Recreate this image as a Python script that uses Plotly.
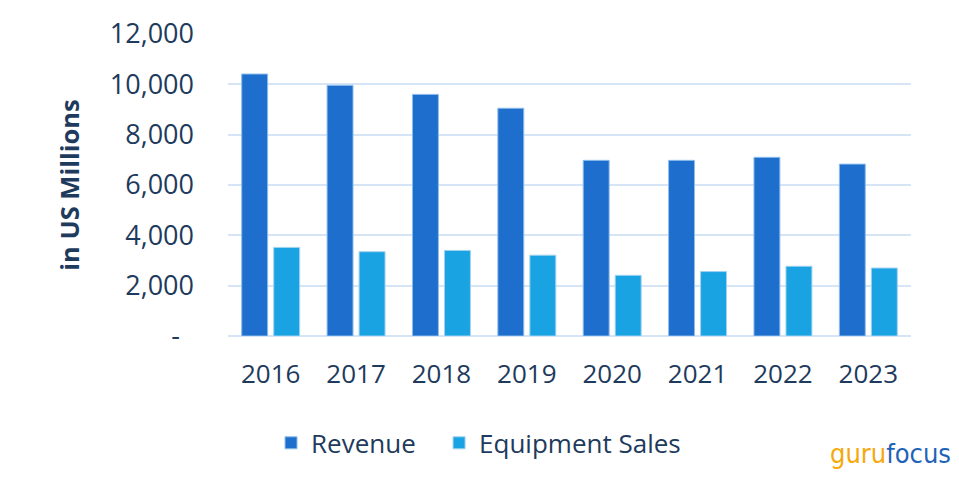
import plotly.graph_objects as go

years = ["2016", "2017", "2018", "2019", "2020", "2021", "2022", "2023"]
revenue = [10410, 9960, 9600, 9050, 6980, 6980, 7100, 6830]
equipment_sales = [3520, 3350, 3400, 3210, 2410, 2560, 2770, 2700]
tick_vals = [0, 2000, 4000, 6000, 8000, 10000, 12000]
tick_text = ["-\u00a0\u00a0", "2,000", "4,000", "6,000", "8,000", "10,000", "12,000"]

navy = "#1e3a5c"
font = "Open Sans"

fig = go.Figure()
fig.add_trace(go.Bar(
    x=years, y=revenue, name="Revenue", legend="legend",
    marker=dict(color="#1d6ecd", line=dict(color="#8fbdea", width=1)),
))
fig.add_trace(go.Bar(
    x=years, y=equipment_sales, name="Equipment Sales", legend="legend2",
    marker=dict(color="#1aa3e2", line=dict(color="#9fd2f0", width=1)),
))

legend_common = dict(
    orientation="h", xanchor="left", yanchor="middle",
    font=dict(family=font, size=26, color=navy), bgcolor="rgba(0,0,0,0)",
)

fig.update_layout(
    width=959, height=485,
    margin=dict(l=220, r=56, t=26, b=157, autoexpand=False),
    paper_bgcolor="white", plot_bgcolor="white",
    barmode="group", bargap=0.25, bargroupgap=0.19,
    font=dict(family=font, color=navy, size=25),
    showlegend=True,
    legend=dict(x=0.063, y=-0.354, **legend_common),
    legend2=dict(x=0.309, y=-0.354, **legend_common),
    xaxis=dict(
        showgrid=False, showline=False, zeroline=False,
        tickfont=dict(family=font, size=26, color=navy), ticks="",
        ticklabelstandoff=20,
    ),
    yaxis=dict(
        range=[0, 12000], tickvals=tick_vals, ticktext=tick_text,
        showgrid=True, gridcolor="#d6e5f6", gridwidth=2,
        zeroline=True, zerolinecolor="#d6e5f6", zerolinewidth=2,
        showline=False, ticks="",
        tickfont=dict(family=font, size=27, color=navy),
        ticklabelstandoff=33,
        title=dict(text="<b>in US Millions</b>", font=dict(family=font, size=25.5, color=navy), standoff=22),
    ),
)

fig.add_annotation(
    x=1.061, y=-0.39, xref="paper", yref="paper", xanchor="right", yanchor="middle",
    showarrow=False,
    text="<span style='color:#f5a90c'>guru</span><span style='color:#1f63b8'>focus</span>",
    font=dict(family="DejaVu Sans Condensed", size=27),
)

fig.write_html("out.html")
